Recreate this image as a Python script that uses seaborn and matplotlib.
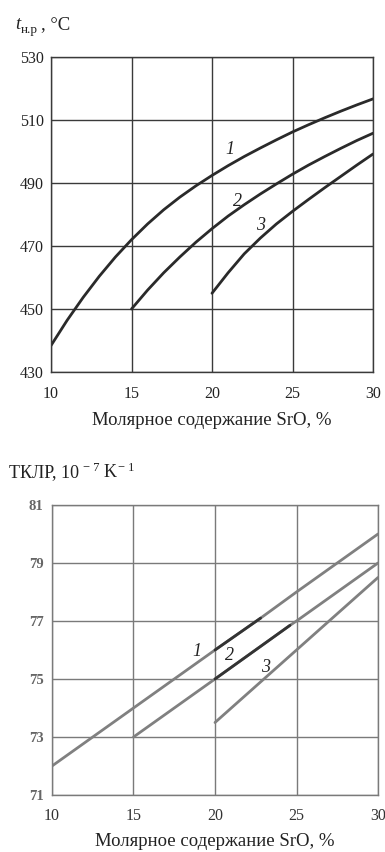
import numpy as np
import pandas as pd
import matplotlib
matplotlib.use("Agg")
import matplotlib.pyplot as plt
import seaborn as sns

# ---- data ----
# top chart: t_н.р, °C vs SrO, %
t1_x = [10, 11, 12, 13, 14, 15, 16, 17, 18, 19, 20, 21, 22, 23, 24, 25, 26, 27, 28, 29, 30]
t1_y = [438.4, 446.4, 453.7, 460.4, 466.5, 472.0, 477.0, 481.5, 485.5, 489.1, 492.4,
        495.5, 498.4, 501.1, 503.7, 506.2, 508.5, 510.7, 512.8, 514.8, 516.7]
t2_x = [15, 16, 17, 18, 19, 20, 21, 22, 23, 24, 25, 26, 27, 28, 29, 30]
t2_y = [450.0, 456.0, 461.5, 466.5, 471.2, 475.5, 479.5, 483.1, 486.5, 489.7, 492.8,
        495.7, 498.4, 501.0, 503.5, 505.8]
t3_x = [20, 21, 22, 23, 24, 25, 26, 27, 28, 29, 30]
t3_y = [455.0, 461.5, 467.5, 472.5, 477.0, 481.0, 484.8, 488.5, 492.1, 495.7, 499.2]

# bottom chart: ТКЛР, 10^-7 K^-1 vs SrO, %
k1_x = [10, 15, 20, 22.8, 25, 30]
k1_y = [72.0, 74.0, 76.0, 77.1, 78.0, 80.0]
k2_x = [15, 20, 24.6, 25, 30]
k2_y = [73.0, 75.0, 76.85, 77.0, 79.0]
k3_x = [20, 23, 25, 30]
k3_y = [73.5, 75.0, 76.0, 78.5]

x_ticks = [10, 15, 20, 25, 30]
top_yticks = [430, 450, 470, 490, 510, 530]
bot_yticks = [71, 73, 75, 77, 79, 81]
curve_labels = ["1", "2", "3"]
xlabel = "Молярное содержание SrO, %"

sns.set_style("white")
plt.rcParams["font.family"] = ["Liberation Serif", "DejaVu Serif"]

W, H = 385, 852
fig = plt.figure(figsize=(W / 100, H / 100), dpi=100)

def frac_axes(l, t, r, b):
    return fig.add_axes([l / W, 1 - b / H, (r - l) / W, (b - t) / H])

# ---------- top chart ----------
ax1 = frac_axes(51, 57, 373, 372)
df_t = pd.concat([
    pd.DataFrame({"x": t1_x, "y": t1_y, "c": "1"}),
    pd.DataFrame({"x": t2_x, "y": t2_y, "c": "2"}),
    pd.DataFrame({"x": t3_x, "y": t3_y, "c": "3"}),
])
sns.lineplot(data=df_t, x="x", y="y", units="c", estimator=None, color="#2a2a2a",
             lw=2.0, ax=ax1, legend=False, sort=False)
ax1.set_xlim(10, 30)
ax1.set_ylim(430, 530)
ax1.set_xticks(x_ticks)
ax1.set_yticks(top_yticks)
ax1.grid(True, color="#3a3a3a", lw=1.0)
for s in ax1.spines.values():
    s.set_color("#3a3a3a"); s.set_linewidth(1.0); s.set_visible(True)
ax1.tick_params(axis="x", length=0, labelsize=11.5, colors="#222222", pad=10)
ax1.tick_params(axis="y", length=0, labelsize=11.5, colors="#222222", pad=5)
ax1.set_xlabel(xlabel, fontsize=13.5, color="#222222", labelpad=7)
ax1.set_ylabel("")
for lab, (xx, yy) in zip(curve_labels, [(21.1, 500.5), (21.6, 484.0), (23.0, 476.5)]):
    ax1.text(xx, yy, lab, fontsize=13, style="italic", color="#222222",
             ha="center", va="center")

# title of top chart
fig.text(15 / W, 1 - 29 / H, "t", fontsize=13.5, style="italic", color="#222222", va="baseline")
fig.text(21 / W, 1 - 33 / H, "н.р", fontsize=9.5, color="#222222", va="baseline")
fig.text(41 / W, 1 - 29 / H, ", °C", fontsize=13.5, color="#222222", va="baseline")

# ---------- bottom chart ----------
ax2 = frac_axes(52, 505, 378, 795)
df_k = pd.concat([
    pd.DataFrame({"x": k1_x, "y": k1_y, "c": "1"}),
    pd.DataFrame({"x": k2_x, "y": k2_y, "c": "2"}),
    pd.DataFrame({"x": k3_x, "y": k3_y, "c": "3"}),
])
sns.lineplot(data=df_k, x="x", y="y", units="c", estimator=None, color="#808080",
             lw=2.0, ax=ax2, legend=False, sort=False)
# darker printed segments
sns.lineplot(x=k1_x[2:4], y=k1_y[2:4], color="#333333", lw=2.0, ax=ax2)
sns.lineplot(x=k2_x[1:3], y=k2_y[1:3], color="#333333", lw=2.0, ax=ax2)
ax2.set_xlim(10, 30)
ax2.set_ylim(71, 81)
ax2.set_xticks(x_ticks)
ax2.set_yticks(bot_yticks)
ax2.grid(True, color="#7a7a7a", lw=1.0)
for s in ax2.spines.values():
    s.set_color("#7a7a7a"); s.set_linewidth(1.0); s.set_visible(True)
ax2.tick_params(axis="x", length=0, labelsize=11.5, colors="#333333", pad=9)
ax2.tick_params(axis="y", length=0, labelsize=10.5, colors="#666666", pad=6)
for t in ax2.get_yticklabels():
    t.set_fontweight("bold")
ax2.set_xlabel(xlabel, fontsize=13.5, color="#222222", labelpad=7)
ax2.set_ylabel("")
for lab, (xx, yy) in zip(curve_labels, [(18.9, 75.95), (20.9, 75.8), (23.1, 75.4)]):
    ax2.text(xx, yy, lab, fontsize=13, style="italic", color="#222222",
             ha="center", va="center")

fig.text(9 / W, 1 - 477 / H, "ТКЛР, 10", fontsize=13, color="#222222", va="baseline")
fig.text(83 / W, 1 - 471 / H, "− 7", fontsize=9, color="#222222", va="baseline")
fig.text(104 / W, 1 - 477 / H, "K", fontsize=13, color="#222222", va="baseline")
fig.text(118 / W, 1 - 471 / H, "− 1", fontsize=9, color="#222222", va="baseline")

fig.savefig("out.png", dpi=100, facecolor="white")
